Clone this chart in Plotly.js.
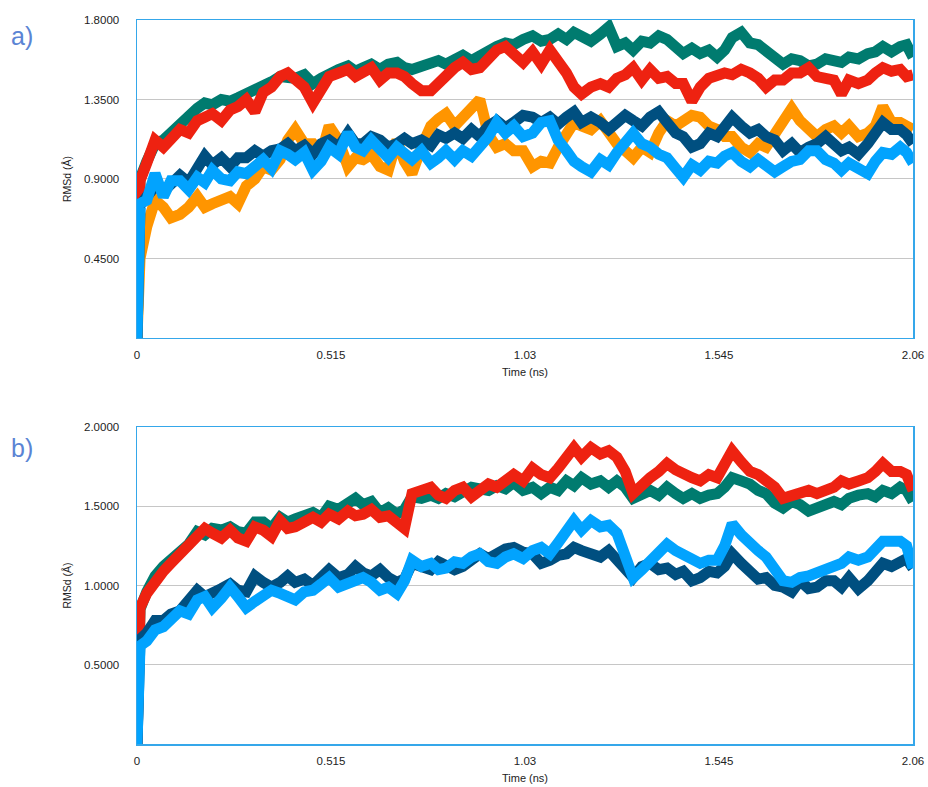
<!DOCTYPE html>
<html>
<head>
<meta charset="utf-8">
<script src="https://cdn.plot.ly/plotly-3.0.1.min.js"></script>
<style>html,body{margin:0;padding:0;background:#fff;}#chart{width:928px;height:787px;}</style>
</head>
<body>
<div id="chart"></div>
<script>
// time (ns)
const time = [0, 0.003, 0.008, 0.026, 0.048, 0.07, 0.09, 0.114, 0.137, 0.16, 0.18, 0.2, 0.224, 0.247, 0.268, 0.29, 0.313, 0.335, 0.357, 0.38, 0.40, 0.42, 0.444, 0.467, 0.489, 0.51, 0.535, 0.56, 0.58, 0.6, 0.622, 0.645, 0.667, 0.69, 0.71, 0.73, 0.755, 0.78, 0.80, 0.82, 0.843, 0.865, 0.888, 0.91, 0.933, 0.955, 0.978, 1.0, 1.025, 1.05, 1.073, 1.096, 1.118, 1.14, 1.16, 1.18, 1.205, 1.23, 1.252, 1.274, 1.296, 1.317, 1.34, 1.362, 1.385, 1.407, 1.43, 1.45, 1.473, 1.495, 1.518, 1.54, 1.56, 1.58, 1.604, 1.627, 1.649, 1.67, 1.693, 1.715, 1.738, 1.76, 1.783, 1.805, 1.828, 1.85, 1.87, 1.89, 1.915, 1.94, 1.96, 1.98, 2.003, 2.026, 2.043, 2.06];

// panel a
const aTeal = [0, 0.75, 0.90, 1.00, 1.10, 1.12, 1.16, 1.22, 1.27, 1.30, 1.33, 1.32, 1.35, 1.34, 1.36, 1.38, 1.40, 1.42, 1.45, 1.48, 1.47, 1.47, 1.49, 1.44, 1.47, 1.50, 1.52, 1.54, 1.51, 1.53, 1.55, 1.52, 1.55, 1.56, 1.53, 1.52, 1.54, 1.55, 1.57, 1.55, 1.58, 1.60, 1.57, 1.60, 1.63, 1.65, 1.67, 1.66, 1.69, 1.71, 1.68, 1.69, 1.72, 1.69, 1.73, 1.70, 1.68, 1.72, 1.76, 1.65, 1.67, 1.63, 1.68, 1.67, 1.71, 1.69, 1.64, 1.61, 1.64, 1.61, 1.63, 1.59, 1.63, 1.70, 1.73, 1.67, 1.66, 1.63, 1.60, 1.55, 1.58, 1.57, 1.54, 1.55, 1.58, 1.57, 1.56, 1.59, 1.58, 1.61, 1.62, 1.65, 1.62, 1.65, 1.66, 1.59];
const aRed = [0, 0.75, 0.89, 0.99, 1.12, 1.08, 1.13, 1.18, 1.16, 1.23, 1.25, 1.27, 1.23, 1.29, 1.31, 1.35, 1.28, 1.39, 1.42, 1.48, 1.50, 1.46, 1.42, 1.33, 1.40, 1.48, 1.50, 1.52, 1.48, 1.50, 1.53, 1.46, 1.50, 1.50, 1.48, 1.44, 1.40, 1.40, 1.44, 1.50, 1.53, 1.56, 1.52, 1.53, 1.59, 1.63, 1.65, 1.61, 1.56, 1.62, 1.55, 1.63, 1.57, 1.50, 1.42, 1.38, 1.42, 1.44, 1.42, 1.47, 1.49, 1.53, 1.46, 1.52, 1.47, 1.48, 1.44, 1.44, 1.34, 1.42, 1.47, 1.48, 1.50, 1.49, 1.52, 1.50, 1.47, 1.42, 1.46, 1.46, 1.50, 1.50, 1.53, 1.48, 1.47, 1.46, 1.38, 1.46, 1.44, 1.46, 1.50, 1.53, 1.51, 1.52, 1.48, 1.49];
const aOrange = [0, 0.35, 0.45, 0.63, 0.78, 0.74, 0.68, 0.70, 0.74, 0.80, 0.74, 0.76, 0.78, 0.80, 0.76, 0.86, 0.90, 0.97, 0.95, 1.01, 1.12, 1.18, 1.10, 1.10, 1.04, 1.20, 1.12, 0.97, 1.02, 1.01, 1.04, 0.97, 0.95, 1.12, 1.00, 0.93, 1.08, 1.20, 1.24, 1.27, 1.20, 1.25, 1.30, 1.35, 1.15, 1.08, 1.10, 1.06, 1.06, 0.97, 1.00, 0.99, 1.08, 1.16, 1.22, 1.20, 1.18, 1.23, 1.16, 1.10, 1.06, 1.02, 1.08, 1.05, 1.16, 1.23, 1.20, 1.23, 1.26, 1.25, 1.20, 1.18, 1.14, 1.14, 1.08, 1.05, 1.10, 1.08, 1.16, 1.23, 1.30, 1.23, 1.18, 1.14, 1.18, 1.20, 1.16, 1.20, 1.14, 1.16, 1.20, 1.31, 1.22, 1.22, 1.20, 1.18];
const aNavy = [0, 0.60, 0.75, 0.80, 0.86, 0.83, 0.88, 0.92, 0.88, 0.97, 1.03, 0.98, 1.02, 0.97, 1.02, 1.02, 1.06, 1.03, 1.06, 1.07, 1.10, 1.06, 1.09, 1.04, 1.10, 1.12, 1.08, 1.16, 1.10, 1.10, 1.14, 1.12, 1.08, 1.10, 1.13, 1.10, 1.12, 1.09, 1.15, 1.13, 1.16, 1.13, 1.18, 1.14, 1.20, 1.23, 1.19, 1.22, 1.26, 1.25, 1.22, 1.25, 1.21, 1.25, 1.28, 1.22, 1.25, 1.22, 1.18, 1.22, 1.26, 1.23, 1.20, 1.25, 1.28, 1.22, 1.16, 1.14, 1.08, 1.10, 1.16, 1.14, 1.20, 1.25, 1.20, 1.16, 1.18, 1.14, 1.12, 1.06, 1.10, 1.05, 1.08, 1.10, 1.14, 1.10, 1.06, 1.08, 1.04, 1.10, 1.17, 1.22, 1.18, 1.18, 1.15, 1.10];
const aSky = [0, 0.60, 0.76, 0.78, 0.93, 0.80, 0.89, 0.89, 0.84, 0.91, 0.88, 0.95, 0.90, 0.89, 0.94, 0.93, 0.98, 1.01, 0.96, 1.06, 1.04, 1.01, 1.05, 0.95, 1.00, 1.08, 1.04, 1.16, 1.08, 1.06, 1.12, 1.06, 1.02, 1.08, 1.04, 1.01, 1.06, 0.99, 1.02, 1.06, 1.01, 1.06, 1.03, 1.08, 1.14, 1.22, 1.16, 1.20, 1.14, 1.16, 1.22, 1.23, 1.12, 1.06, 1.00, 0.97, 0.94, 1.01, 0.98, 1.05, 1.12, 1.16, 1.10, 1.08, 1.04, 1.02, 0.96, 0.91, 0.98, 0.95, 1.00, 0.99, 1.03, 1.05, 1.00, 0.97, 1.01, 0.97, 0.94, 0.97, 1.00, 1.01, 1.06, 1.06, 1.01, 0.99, 0.95, 0.99, 0.96, 0.93, 1.00, 1.05, 1.04, 1.08, 1.05, 0.99];

// panel b
const bTeal = [0, 0.60, 0.85, 0.96, 1.06, 1.12, 1.16, 1.21, 1.26, 1.34, 1.32, 1.36, 1.35, 1.37, 1.34, 1.33, 1.40, 1.40, 1.36, 1.43, 1.40, 1.42, 1.45, 1.46, 1.43, 1.50, 1.48, 1.52, 1.55, 1.51, 1.53, 1.46, 1.49, 1.45, 1.48, 1.56, 1.55, 1.57, 1.55, 1.58, 1.56, 1.59, 1.62, 1.61, 1.60, 1.63, 1.61, 1.65, 1.60, 1.62, 1.58, 1.62, 1.60, 1.66, 1.63, 1.68, 1.64, 1.66, 1.62, 1.66, 1.62, 1.55, 1.58, 1.60, 1.57, 1.62, 1.58, 1.55, 1.58, 1.55, 1.57, 1.58, 1.62, 1.68, 1.66, 1.64, 1.60, 1.58, 1.52, 1.49, 1.53, 1.51, 1.47, 1.49, 1.52, 1.53, 1.51, 1.55, 1.57, 1.58, 1.56, 1.60, 1.58, 1.62, 1.60, 1.53];
const bRed = [0, 0.61, 0.86, 0.95, 1.03, 1.09, 1.14, 1.20, 1.25, 1.33, 1.36, 1.33, 1.30, 1.35, 1.30, 1.28, 1.37, 1.35, 1.31, 1.41, 1.36, 1.37, 1.40, 1.43, 1.40, 1.45, 1.42, 1.47, 1.44, 1.45, 1.48, 1.43, 1.44, 1.39, 1.36, 1.58, 1.60, 1.62, 1.57, 1.55, 1.60, 1.62, 1.56, 1.60, 1.64, 1.62, 1.67, 1.70, 1.66, 1.74, 1.70, 1.68, 1.74, 1.81, 1.87, 1.81, 1.87, 1.83, 1.85, 1.81, 1.72, 1.58, 1.64, 1.68, 1.72, 1.77, 1.73, 1.70, 1.68, 1.66, 1.70, 1.68, 1.76, 1.85, 1.78, 1.72, 1.70, 1.66, 1.62, 1.55, 1.57, 1.58, 1.60, 1.58, 1.60, 1.62, 1.66, 1.64, 1.66, 1.68, 1.72, 1.77, 1.72, 1.72, 1.70, 1.60];
const bNavy = [0, 0.55, 0.66, 0.70, 0.78, 0.78, 0.82, 0.84, 0.90, 0.97, 0.93, 0.96, 0.98, 1.01, 0.97, 0.96, 1.06, 1.02, 0.99, 1.02, 1.06, 1.02, 1.04, 1.00, 1.04, 1.10, 1.05, 1.07, 1.12, 1.08, 1.06, 1.10, 1.05, 1.02, 1.04, 1.14, 1.12, 1.10, 1.15, 1.12, 1.10, 1.12, 1.16, 1.20, 1.17, 1.20, 1.23, 1.24, 1.21, 1.20, 1.14, 1.16, 1.19, 1.20, 1.24, 1.22, 1.20, 1.18, 1.22, 1.16, 1.12, 1.05, 1.12, 1.14, 1.10, 1.11, 1.07, 1.09, 1.03, 1.05, 1.09, 1.08, 1.12, 1.20, 1.14, 1.09, 1.04, 1.05, 1.00, 0.99, 0.96, 1.03, 0.98, 0.99, 1.03, 1.03, 0.99, 1.05, 0.98, 1.03, 1.10, 1.14, 1.12, 1.14, 1.17, 1.11];
const bSky = [0, 0.57, 0.62, 0.65, 0.72, 0.74, 0.78, 0.84, 0.82, 0.91, 0.93, 0.86, 0.92, 0.99, 0.93, 0.86, 0.90, 0.93, 0.97, 0.95, 0.92, 0.91, 0.96, 0.97, 1.01, 1.05, 0.99, 1.01, 1.04, 1.05, 1.02, 0.97, 0.99, 0.95, 1.03, 1.16, 1.12, 1.14, 1.10, 1.11, 1.15, 1.14, 1.18, 1.20, 1.15, 1.14, 1.18, 1.20, 1.17, 1.22, 1.24, 1.20, 1.27, 1.35, 1.41, 1.35, 1.41, 1.37, 1.38, 1.33, 1.20, 1.05, 1.10, 1.16, 1.22, 1.26, 1.22, 1.20, 1.17, 1.14, 1.16, 1.16, 1.25, 1.39, 1.32, 1.26, 1.22, 1.18, 1.10, 1.03, 1.02, 1.05, 1.06, 1.08, 1.09, 1.11, 1.14, 1.18, 1.16, 1.18, 1.22, 1.28, 1.28, 1.28, 1.25, 1.11];

const xTicks = [0, 0.515, 1.03, 1.545, 2.06];
const xTickText = ['0', '0.515', '1.03', '1.545', '2.06'];
const aTicks = [0.45, 0.9, 1.35, 1.8];
const aTickText = ['0.4500', '0.9000', '1.3500', '1.8000'];
const bTicks = [0.5, 1.0, 1.5, 2.0];
const bTickText = ['0.5000', '1.0000', '1.5000', '2.0000'];

const C = {teal:'#007b6f', red:'#ee2211', orange:'#ff9500', navy:'#004f80', sky:'#02a3fe'};
const LW = 11;
function tr(y, color, xa, ya) {
  return {x: time, y: y, type: 'scatter', mode: 'lines', xaxis: xa, yaxis: ya,
    line: {color: color, width: LW, shape: 'linear'}, hoverinfo: 'skip', showlegend: false};
}
const data = [
  tr(aTeal, C.teal, 'x', 'y'),
  tr(aRed, C.red, 'x', 'y'),
  tr(aOrange, C.orange, 'x', 'y'),
  tr(aNavy, C.navy, 'x', 'y'),
  tr(aSky, C.sky, 'x', 'y'),
  tr(bTeal, C.teal, 'x2', 'y2'),
  tr(bRed, C.red, 'x2', 'y2'),
  tr(bNavy, C.navy, 'x2', 'y2'),
  tr(bSky, C.sky, 'x2', 'y2')
];
const FONT = 'Liberation Sans Narrow, Liberation Sans, Arial, sans-serif';
const frame = '#35a7ea';
function xax(anchor) {
  return {anchor: anchor, range: [0, 2.06], tickmode: 'array', tickvals: xTicks, ticktext: xTickText,
    showgrid: false, zeroline: false, showline: true, linecolor: frame, linewidth: 1.5, mirror: true,
    ticks: '', ticklabelstandoff: 6, tickfont: {family: FONT, size: 11.5, color: '#222'},
    title: {text: 'Time (ns)', font: {family: FONT, size: 11, color: '#222'}, standoff: 8}};
}
function yax(anchor, dom, range, tv, tt) {
  return {anchor: anchor, domain: dom, range: range, tickmode: 'array', tickvals: tv, ticktext: tt,
    showgrid: true, gridcolor: '#c6c6c6', gridwidth: 1, zeroline: false,
    showline: true, linecolor: frame, linewidth: 1.5, mirror: true,
    ticks: '', ticklabelstandoff: 14, tickfont: {family: 'Liberation Sans, Arial, sans-serif', size: 11.5, color: '#222'},
    title: {text: 'RMSd (Å)', font: {family: 'Liberation Sans, Arial, sans-serif', size: 10.5, color: '#222'}, standoff: 10}};
}
const layout = {
  width: 928, height: 787,
  margin: {l: 137, r: 15, t: 20, b: 43},
  paper_bgcolor: '#fff', plot_bgcolor: '#fff',
  xaxis: xax('y'),
  yaxis: yax('x', [0.5608, 1], [0, 1.8], aTicks, aTickText),
  xaxis2: xax('y2'),
  yaxis2: yax('x2', [0, 0.4378], [0, 2.0], bTicks, bTickText),
  annotations: [
    {text: 'a)', xref: 'paper', yref: 'paper', x: -0.148, y: 0.978, xanchor: 'center', yanchor: 'middle',
     showarrow: false, font: {family: 'Liberation Sans, Arial, sans-serif', size: 25, color: '#5b84d4'}},
    {text: 'b)', xref: 'paper', yref: 'paper', x: -0.148, y: 0.409, xanchor: 'center', yanchor: 'middle',
     showarrow: false, font: {family: 'Liberation Sans, Arial, sans-serif', size: 25, color: '#5b84d4'}}
  ]
};
Plotly.newPlot('chart', data, layout, {staticPlot: true, displayModeBar: false});
</script>
</body>
</html>
